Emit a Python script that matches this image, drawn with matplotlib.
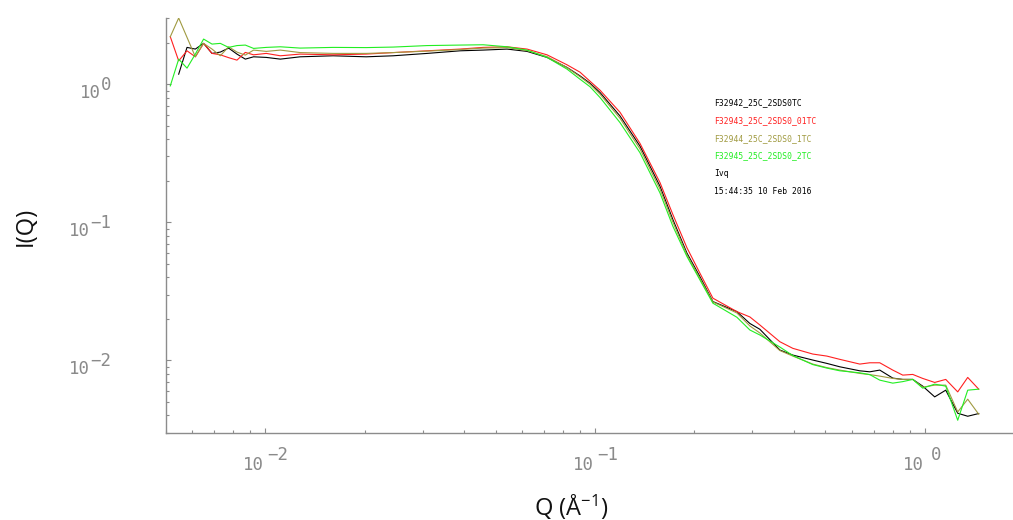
import numpy as np
import matplotlib
matplotlib.use("Agg")
import matplotlib.pyplot as plt
from matplotlib.ticker import LogLocator, NullFormatter

plt.rcParams['mathtext.fontset'] = 'custom'
plt.rcParams['mathtext.rm'] = 'Open Sans'
plt.rcParams['mathtext.it'] = 'Open Sans'

# ---------------- data ----------------
q = [0.005152, 0.005463, 0.005790, 0.006137, 0.006501, 0.006895, 0.007306, 0.007742,
     0.008207, 0.008700, 0.009216, 0.01007, 0.01111, 0.01276, 0.01607, 0.02023,
     0.02443, 0.03097, 0.03899, 0.04577, 0.05410, 0.06221, 0.07154, 0.08228,
     0.09006, 0.09656, 0.1036, 0.1191, 0.1369, 0.1574, 0.1723, 0.1900,
     0.2080, 0.2278, 0.2693, 0.2949, 0.3162, 0.3636, 0.3981, 0.4576,
     0.5047, 0.5526, 0.6353, 0.6813, 0.7305, 0.8000, 0.8577, 0.9197,
     0.986, 1.072, 1.158, 1.259, 1.350, 1.458]

i_f32942 = [np.nan, 1.182, 1.847, 1.796, 1.975, 1.671, 1.708, 1.826,
            1.652, 1.519, 1.579, 1.563, 1.519, 1.579, 1.606, 1.579,
            1.606, 1.671, 1.745, 1.766, 1.796, 1.728, 1.563, 1.322,
            1.149, 1.017, 0.870, 0.5886, 0.3564, 0.1826, 0.1046, 0.05995,
            0.04052, 0.02669, 0.02258, 0.01853, 0.01682, 0.01190, 0.01094, 0.01007,
            0.009526, 0.009000, 0.008418, 0.008278, 0.008518, 0.007454, 0.007293, 0.007293,
            0.006518, 0.005451, 0.006096, 0.004150, 0.003947, 0.004129]

i_f32943 = [2.206, 1.476, 1.745, 1.579, 1.975, 1.671, 1.632, 1.557,
            1.494, 1.699, 1.632, 1.671, 1.606, 1.652, 1.632, 1.652,
            1.694, 1.745, 1.796, 1.847, 1.866, 1.796, 1.632, 1.381,
            1.222, 1.051, 0.9046, 0.6260, 0.3729, 0.1942, 0.1137, 0.06552,
            0.04291, 0.02825, 0.02258, 0.02066, 0.01807, 0.01367, 0.01224, 0.01113,
            0.01076, 0.01019, 0.009416, 0.009623, 0.009623, 0.008518, 0.007834, 0.007925,
            0.007413, 0.006934, 0.007293, 0.005924, 0.007539, 0.006198]

i_f32944 = [2.206, 3.015, 2.184, 1.579, 1.975, 1.796, 1.606, 1.866,
            1.708, 1.624, 1.766, 1.728, 1.766, 1.694, 1.671, 1.671,
            1.694, 1.736, 1.781, 1.826, 1.841, 1.751, 1.584, 1.318,
            1.134, 1.000, 0.846, 0.5663, 0.3401, 0.1742, 0.1003, 0.05825,
            0.03933, 0.02655, 0.02209, 0.01778, 0.01581, 0.01180, 0.01076, 0.009416,
            0.008880, 0.008518, 0.008059, 0.007900, 0.007704, 0.007413, 0.007293, 0.007293,
            0.006410, 0.006629, 0.006629, 0.004242, 0.005245, 0.004080]

i_f32945 = [0.9720, 1.519, 1.307, 1.652, 2.122, 1.952, 1.975, 1.847,
            1.904, 1.920, 1.816, 1.847, 1.866, 1.826, 1.847, 1.841,
            1.857, 1.904, 1.920, 1.930, 1.866, 1.766, 1.563, 1.285,
            1.087, 0.959, 0.8007, 0.5270, 0.3192, 0.1634, 0.09354, 0.05662,
            0.03836, 0.02598, 0.02056, 0.01662, 0.01529, 0.01251, 0.01085, 0.009337,
            0.008807, 0.008418, 0.008140, 0.007900, 0.007205, 0.006854, 0.007028, 0.007293,
            0.006303, 0.006740, 0.006518, 0.003692, 0.006096, 0.006198]

series_names = ["F32942_25C_2SDS0TC", "F32943_25C_2SDS0_01TC",
                "F32944_25C_2SDS0_1TC", "F32945_25C_2SDS0_2TC"]
series_vals = [i_f32942, i_f32943, i_f32944, i_f32945]
series_colors = ["#000000", "#ff2020", "#a09a40", "#22ee22"]
extra_legend = ["Ivq", "15:44:35 10 Feb 2016"]

x_major = [1e-2, 1e-1, 1e0]
x_exps = ["\u22122", "\u22121", "0"]
y_major = [1e0, 1e-1, 1e-2]
y_exps = ["0", "\u22121", "\u22122"]

# ---------------- figure ----------------
W, H = 1013, 520
fig = plt.figure(figsize=(W / 100, H / 100), dpi=100)
ax_l, ax_r, ax_t, ax_b = 166, 1024, 18.3, 432.7
ax = fig.add_axes([ax_l / W, 1 - ax_b / H, (ax_r - ax_l) / W, (ax_b - ax_t) / H])
ax.set_xscale('log')
ax.set_yscale('log')
ax.set_xlim(0.005, 2.0)
ax.set_ylim(0.003, 3.0)

for vals, col in zip(series_vals, series_colors):
    ax.plot(q, vals, color=col, lw=0.8)

axis_col = '#8c8c8c'
for s in ['top', 'right']:
    ax.spines[s].set_visible(False)
for s in ['left', 'bottom']:
    ax.spines[s].set_color(axis_col)
    ax.spines[s].set_linewidth(1.0)

ax.xaxis.set_minor_locator(LogLocator(base=10, subs=np.arange(2, 10)))
ax.yaxis.set_minor_locator(LogLocator(base=10, subs=np.arange(2, 10)))
ax.tick_params(which='major', direction='in', length=3.6, width=0.8, color=axis_col)
ax.tick_params(which='minor', direction='in', length=2.2, width=0.8, color=axis_col)
ax.tick_params(which='both', labelbottom=False, labelleft=False)
ax.xaxis.set_minor_formatter(NullFormatter())
ax.yaxis.set_minor_formatter(NullFormatter())

tick_font = dict(family='DejaVu Sans Mono', fontsize=12.5, color='#8a8a8a')
adv = 0.602 * 12.5 * 100 / 72  # char advance in pixels

# x tick labels
for val, e in zip(x_major, x_exps):
    ax.annotate("10", xy=(val, 0), xycoords=ax.get_xaxis_transform(),
                xytext=(-1, -37), textcoords='offset pixels',
                ha='right', va='baseline', **tick_font)
    ax.annotate(e, xy=(val, 0), xycoords=ax.get_xaxis_transform(),
                xytext=(2 if e != "0" else 6, -27), textcoords='offset pixels',
                ha='left', va='baseline', **tick_font)

# y tick labels
for val, e in zip(y_major, y_exps):
    ax.annotate(e, xy=(0, val), xycoords=ax.get_yaxis_transform(),
                xytext=(-55, -6), textcoords='offset pixels',
                ha='right', va='baseline', **tick_font)
    ax.annotate("10", xy=(0, val), xycoords=ax.get_yaxis_transform(),
                xytext=(-55 - len(e) * adv, -14), textcoords='offset pixels',
                ha='right', va='baseline', **tick_font)

# axis titles
fig.text(571 / W, 1 - 507 / H, "Q (Å$^{-1}$)", fontsize=17, family='Open Sans',
         ha='center', va='center', color='#111111')
fig.text(26 / W, 1 - 226 / H, "I(Q)", fontsize=17, family='Open Sans',
         ha='center', va='center', rotation=90, color='#111111')

# legend-like annotation block
leg_y = [103, 121, 138.5, 156, 174, 191]
leg_txt = series_names + extra_legend
leg_col = series_colors + ['#000000', '#000000']
for yy, t, c in zip(leg_y, leg_txt, leg_col):
    fig.text(714 / W, 1 - yy / H, t, fontsize=5.8, family='DejaVu Sans Mono',
             color=c, ha='left', va='center')

fig.savefig("out.png", dpi=100)
